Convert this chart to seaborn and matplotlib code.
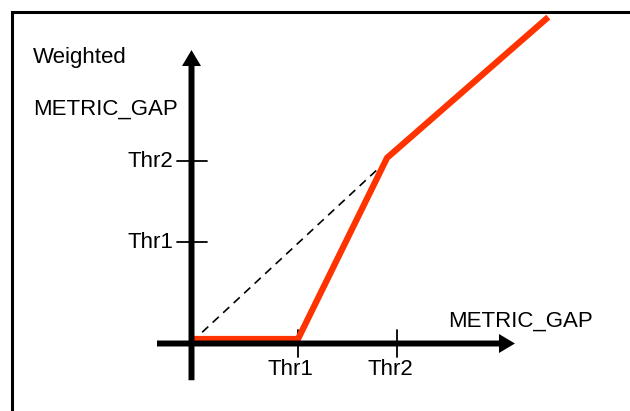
import matplotlib
matplotlib.use('Agg')
import matplotlib.pyplot as plt
from matplotlib.patches import Rectangle
import seaborn as sns

# schematic values, in "threshold units" (Thr1 = 1 on both axes)
x_ticks = [1.0, 1.93]
x_tick_labels = ['Thr1', 'Thr2']
y_ticks = [1.0, 1.79]
y_tick_labels = ['Thr1', 'Thr2']

weight_x = [-0.02, 1.0, 1.836, 3.35]
weight_y = [0.044, 0.044, 1.82, 3.2]

diag_x = [0.1, 1.77]
diag_y = [0.11, 1.73]

x_axis_span = [-0.324, 3.037]
y_axis_span = [-0.36, 2.877]

W, H, DPI = 630, 411, 100
X0, Y0 = 191.5, 343.5     # origin in pixels
XU, YU = 106.5, 102.0     # pixels per unit

sns.set_theme(style='white')
plt.rcParams['font.family'] = ['Liberation Sans', 'DejaVu Sans']
plt.rcParams['text.color'] = 'black'

fig = plt.figure(figsize=(W / DPI, H / DPI), dpi=DPI)
ax = fig.add_axes([0, 0, 1, 1])
ax.set_xlim(-X0 / XU, (W - X0) / XU)
ax.set_ylim(-(H - Y0) / YU, Y0 / YU)
ax.axis('off')

# frame round the picture
fig.add_artist(Rectangle((11.5 / W, -0.5), 1.5, (1 - 12 / H) + 0.5,
                         transform=fig.transFigure, fill=False,
                         ec='black', lw=2.2, clip_on=False))

# axes with arrow heads
arrow = dict(arrowstyle='simple,head_length=11.5,head_width=13.7,tail_width=4.3',
             mutation_scale=1, fc='black', ec='none', shrinkA=0, shrinkB=0)
ax.annotate('', xy=(x_axis_span[1], 0), xytext=(x_axis_span[0], 0), arrowprops=arrow)
ax.annotate('', xy=(0, y_axis_span[1]), xytext=(0, y_axis_span[0]), arrowprops=arrow)

# tick marks
for xt in x_ticks:
    ax.plot([xt, xt], [-0.13, 0.13], color='black', lw=1.3)
for yt in y_ticks:
    ax.plot([-0.136, 0.146], [yt, yt], color='black', lw=1.3)

# dashed diagonal and the weighted curve
sns.lineplot(x=diag_x, y=diag_y, ax=ax, color='black', lw=1.2,
             dashes=False, sort=False, estimator=None)
ax.lines[-1].set_dashes([5.0, 3.6])
sns.lineplot(x=weight_x, y=weight_y, ax=ax, color='#ff3300', lw=4.5,
             sort=False, estimator=None)
ax.lines[-1].set_solid_capstyle('butt')
ax.lines[-1].set_solid_joinstyle('miter')

fs = 16
for xt, lab in zip(x_ticks, x_tick_labels):
    ax.text(xt - 30 / XU, -31.5 / YU, lab, fontsize=fs, ha='left', va='baseline', color='black')
for yt, lab in zip(y_ticks, y_tick_labels):
    ax.text(-64.5 / XU, yt - 6.5 / YU, lab, fontsize=fs, ha='left', va='baseline', color='black')

ax.text(2.408, 0.162, 'METRIC_GAP', fontsize=fs, ha='left', va='baseline', color='black')
ax.text(-1.488, 2.75, 'Weighted', fontsize=fs, ha='left', va='baseline', color='black')
ax.text(-1.488, 2.24, 'METRIC_GAP', fontsize=fs, ha='left', va='baseline', color='black')

fig.savefig('out.png', dpi=DPI, facecolor='white')
